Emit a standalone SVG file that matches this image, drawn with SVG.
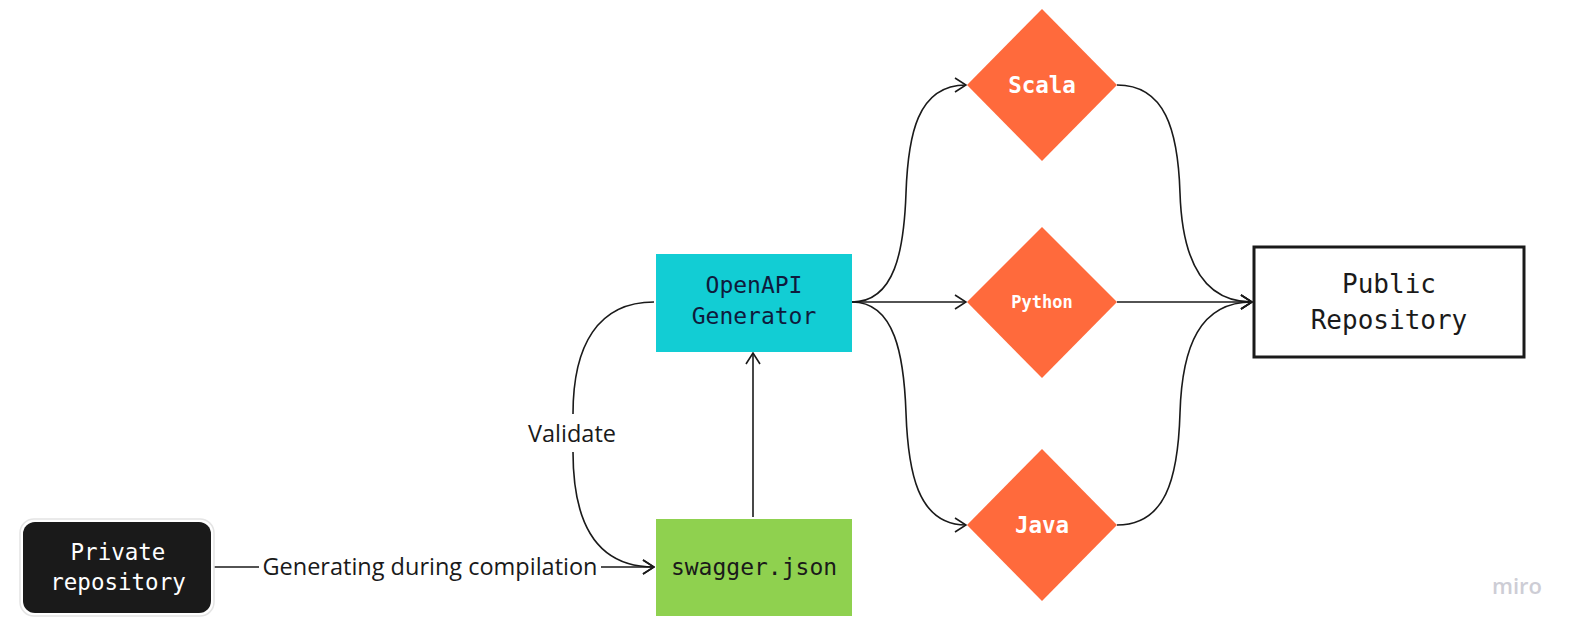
<svg xmlns="http://www.w3.org/2000/svg" width="1580" height="632" viewBox="0 0 1580 632">
<style>
.mono{font-family:"DejaVu Sans Mono","Liberation Mono",monospace;text-anchor:middle}
.lbl{font-family:"Open Sans","Noto Sans",sans-serif;font-size:23.5px;fill:#1a1a1a;text-anchor:middle}
.edge{fill:none;stroke:#1a1a1a;stroke-width:1.6}
.dia{fill:#ff6a3c}
.dtxt{fill:#ffffff;font-weight:bold}
</style>
<defs>
<marker id="arr" viewBox="0 0 14 16" refX="13" refY="8" markerWidth="14" markerHeight="16" markerUnits="userSpaceOnUse" orient="auto">
<path d="M2 1 L13 8 L2 15" fill="none" stroke="#1a1a1a" stroke-width="1.6"/>
</marker>
</defs>
<rect width="1580" height="632" fill="#ffffff"/>
<g id="connectors">
<path class="edge" d="M213 567 L259 567"/>
<path class="edge" d="M601 567 L654 567" marker-end="url(#arr)"/>
<path class="edge" d="M654 302 C598 302 573 345 573 414"/>
<path class="edge" d="M573 452 C573 525 598 567 654 567" marker-end="url(#arr)"/>
<path class="edge" d="M753 517 L753 353" marker-end="url(#arr)"/>
<path class="edge" d="M852 302 C895 302 904 250 906 193 C908 136 917 85 966 85" marker-end="url(#arr)"/>
<path class="edge" d="M852 302 L966 302" marker-end="url(#arr)"/>
<path class="edge" d="M852 302 C895 302 904 356 906 413 C908 470 917 525 966 525" marker-end="url(#arr)"/>
<path class="edge" d="M1117 85 C1165 85 1178 130 1180 193 C1182 256 1200 302 1252 302" marker-end="url(#arr)"/>
<path class="edge" d="M1117 302 L1252 302" marker-end="url(#arr)"/>
<path class="edge" d="M1117 525 C1165 525 1178 480 1180 413 C1182 346 1200 302 1252 302" marker-end="url(#arr)"/>
<text class="lbl" x="430" y="575">Generating during compilation</text>
<text class="lbl" x="572" y="442">Validate</text>
</g>
<g id="private">
<rect x="20" y="519" width="194" height="97" rx="14" fill="#ffffff" stroke="#e4e4e4" stroke-width="1.5"/>
<rect x="23" y="522" width="188" height="91" rx="12" fill="#1a1a1a"/>
<text class="mono" x="118" y="560" font-size="22.5" fill="#ffffff">Private</text>
<text class="mono" x="118" y="590" font-size="22.5" fill="#ffffff">repository</text>
</g>
<g id="swagger">
<rect x="656" y="519" width="196" height="97" fill="#8fd14f"/>
<text class="mono" x="754" y="575" font-size="23" fill="#1a1a1a">swagger.json</text>
</g>
<g id="openapi">
<rect x="656" y="254" width="196" height="98" fill="#12cdd4"/>
<text class="mono" x="754" y="293" font-size="23" fill="#0f1a3c">OpenAPI</text>
<text class="mono" x="754" y="324" font-size="23" fill="#0f1a3c">Generator</text>
</g>
<g id="scala">
<polygon class="dia" points="1042,9 1117,85 1042,161 967,85"/>
<text class="mono dtxt" x="1042" y="93" font-size="22.5">Scala</text>
</g>
<g id="python">
<polygon class="dia" points="1042,227 1117,302 1042,378 967,302"/>
<text class="mono dtxt" x="1042" y="308" font-size="17">Python</text>
</g>
<g id="java">
<polygon class="dia" points="1042,449 1117,525 1042,601 967,525"/>
<text class="mono dtxt" x="1042" y="533" font-size="22.5">Java</text>
</g>
<g id="public">
<rect x="1254" y="247" width="270" height="110" fill="#ffffff" stroke="#1a1a1a" stroke-width="3"/>
<text class="mono" x="1389" y="293" font-size="26" fill="#1a1a1a">Public</text>
<text class="mono" x="1389" y="329" font-size="26" fill="#1a1a1a">Repository</text>
</g>
<g id="logo">
<text x="1517" y="594" font-family="'Open Sans','Noto Sans',sans-serif" font-size="22" font-weight="600" fill="#cdcdd5" text-anchor="middle">miro</text>
</g>
</svg>
